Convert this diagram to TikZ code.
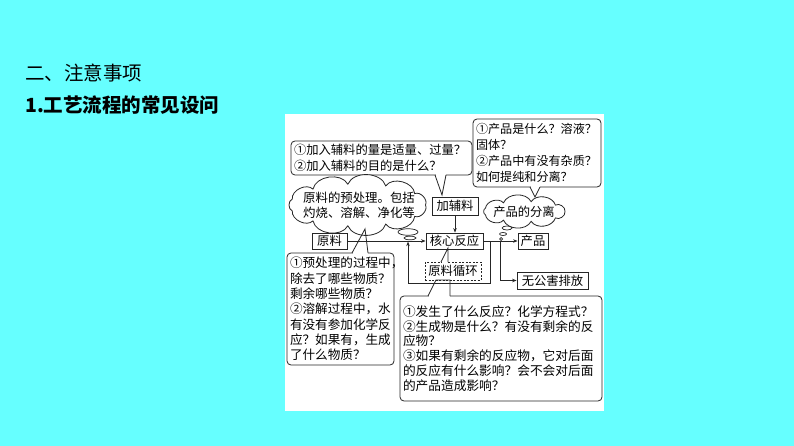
\documentclass[tikz,border=0pt]{standalone}
\usepackage{fontspec}
\newfontfamily\cjk{Noto Sans CJK SC}
\usetikzlibrary{arrows.meta,calc}
\definecolor{bgcyan}{RGB}{102,255,255}
\begin{document}
\begin{tikzpicture}[x=1pt,y=-1pt,
  ln/.style={line width=0.8pt, draw=black!85},
  box/.style={ln, rectangle, inner sep=1pt, font=\cjk\fontsize{12.3}{15}\selectfont},
  callout/.style={ln, rectangle, rounded corners=4pt, align=left, inner xsep=3pt, inner ysep=1pt},
  arr/.style={ln, -{Stealth[length=4.5pt,width=3.5pt]}},
  bub/.style={ln, fill=white, line width=0.7pt},
  cover/.style={fill=white}
]
\useasboundingbox (0,0) rectangle (794,446);
\fill[bgcyan] (0,0) rectangle (794,446);
\fill[white] (285,114) rectangle (604,411);

% titles
\node[anchor=west, inner sep=0pt, font=\cjk\fontsize{19.5}{20}\selectfont] (t1) at (25,73) {二、注意事项};
\node[anchor=west, inner sep=0pt, font=\cjk\bfseries\fontsize{19.5}{20}\selectfont] (t2) at (25,105) {1.工艺流程的常见设问};

% callout boxes
\node[callout, text width=175pt, minimum height=34pt, font=\cjk\fontsize{12.3}{16}\selectfont] (cq1) at (381.5,158)
  {①加入辅料的量是适量、过量？\\②加入辅料的目的是什么？};
\node[callout, text width=122pt, minimum height=68pt, font=\cjk\fontsize{12.1}{16}\selectfont] (cq2) at (537,153)
  {①产品是什么？溶液？\\固体？\\②产品中有没有杂质？\\如何提纯和分离？};
\node[callout, text width=101pt, minimum height=112pt, font=\cjk\fontsize{12.6}{15.3}\selectfont] (cq3) at (340.5,309)
  {①预处理的过程中，\\除去了哪些物质？\\剩余哪些物质？\\②溶解过程中，水\\有没有参加化学反\\应？如果有，生成\\了什么物质？};
\node[callout, text width=196pt, minimum height=105pt, font=\cjk\fontsize{12.7}{14.8}\selectfont] (cq4) at (501,348.5)
  {①发生了什么反应？化学方程式？\\②生成物是什么？有没有剩余的反\\应物？\\③如果有剩余的反应物，它对后面\\的反应有什么影响？会不会对后面\\的产品造成影响？};

% clouds (drawn as puffs around an ellipse)
\coordinate (cl1) at (357.5,205);
\draw[ln, fill=white] ($(cl1)+(68,0)$)
  \foreach \i in {1,...,11} { to[bend left=70] ($(cl1)+({68*cos(360*\i/11)},{21*sin(360*\i/11)})$) } -- cycle;
\node[align=left, inner sep=0pt, font=\cjk\fontsize{12.4}{15}\selectfont] (cl1t) at (359,205) {原料的预处理。包括\\灼烧、溶解、净化等};
\coordinate (cl2) at (524,211.5);
\draw[ln, fill=white] ($(cl2)+(41,0)$)
  \foreach \i in {1,...,9} { to[bend left=65] ($(cl2)+({41*cos(360*\i/9)},{10*sin(360*\i/9)})$) } -- cycle;
\node[inner sep=0pt, font=\cjk\fontsize{12.3}{15}\selectfont] (cl2t) at (524,212) {产品的分离};

% process boxes
\node[box, minimum width=35pt, minimum height=16pt] (raw) at (329.5,241) {原料};
\node[box, minimum width=46pt, minimum height=18pt] (aux) at (455,206) {加辅料};
\node[box, minimum width=57pt, minimum height=16pt] (core) at (454.5,241) {核心反应};
\node[box, minimum width=30pt, minimum height=16pt] (prod) at (533,241) {产品};
\node[box, minimum width=71pt, minimum height=17pt] (waste) at (552.5,280.5) {无公害排放};
\node[box, dash pattern=on 2pt off 1.5pt, minimum width=56pt, minimum height=18pt] (recyc) at (453,271) {原料循环};

% connectors
\draw[arr] (raw.east) -- (raw.east -| core.west);
\draw[arr] (aux.south) -- (aux.south |- core.north);
\draw[arr] (core.east) -- (core.east -| prod.west);
\coordinate (j1) at (490,241);
\coordinate (j2) at (500,241);
\coordinate (lp1) at (490,283);
\coordinate (lp2) at (408,283);
\coordinate (lp3) at (408,241.6);
\draw[arr] (j1) -- (lp1) -- (lp2) -- (lp3);
\draw[arr] (j2) |- (waste.west);

% thought bubbles
\draw[bub] (408,232) ellipse [x radius=10pt, y radius=3.3pt];
\draw[bub] (410,238) ellipse [x radius=6pt, y radius=1.8pt];
\draw[bub] (507,228) ellipse [x radius=5pt, y radius=2pt];
\draw[bub] (503,234) ellipse [x radius=3.5pt, y radius=1.5pt];
\draw[bub] (501,239) circle [radius=1.5pt];

% callout pointers
\coordinate (p1a) at (435,175); \coordinate (p1t) at (442,195); \coordinate (p1b) at (446,175);
\fill[cover] ($(p1a)+(0.5,-1)$) rectangle ($(p1b)+(-0.5,1)$);
\draw[ln] (p1a) -- (p1t) -- (p1b);

\coordinate (p2a) at (530,187); \coordinate (p2t) at (535,197); \coordinate (p2b) at (540,187);
\fill[cover] ($(p2a)+(0.5,-1)$) rectangle ($(p2b)+(-0.5,1)$);
\draw[ln] (p2a) -- (p2t) -- (p2b);

\coordinate (p3a) at (352,253); \coordinate (p3t) at (365,229); \coordinate (p3b) at (368,253);
\fill[cover] ($(p3a)+(0.5,-1)$) rectangle ($(p3b)+(-0.5,1)$);
\draw[ln] (p3a) -- (p3t) -- (p3b);

\coordinate (p4a) at (428,296); \coordinate (p4t) at (436,280); \coordinate (p4u) at (450,280); \coordinate (p4b) at (450,296);
\fill[cover] ($(p4a)+(0.5,-1)$) rectangle ($(p4b)+(-0.5,1)$);
\draw[ln] (p4a) -- (p4t) -- (p4u) -- (p4b);

\coordinate (p5a) at (441,262); \coordinate (p5t) at (448,248); \coordinate (p5b) at (448,262);
\fill[cover] ($(p5a)+(0.5,-1)$) rectangle ($(p5b)+(-0.5,1)$);
\draw[ln] (p5a) -- (p5t) -- (p5b);
\end{tikzpicture}
\end{document}
